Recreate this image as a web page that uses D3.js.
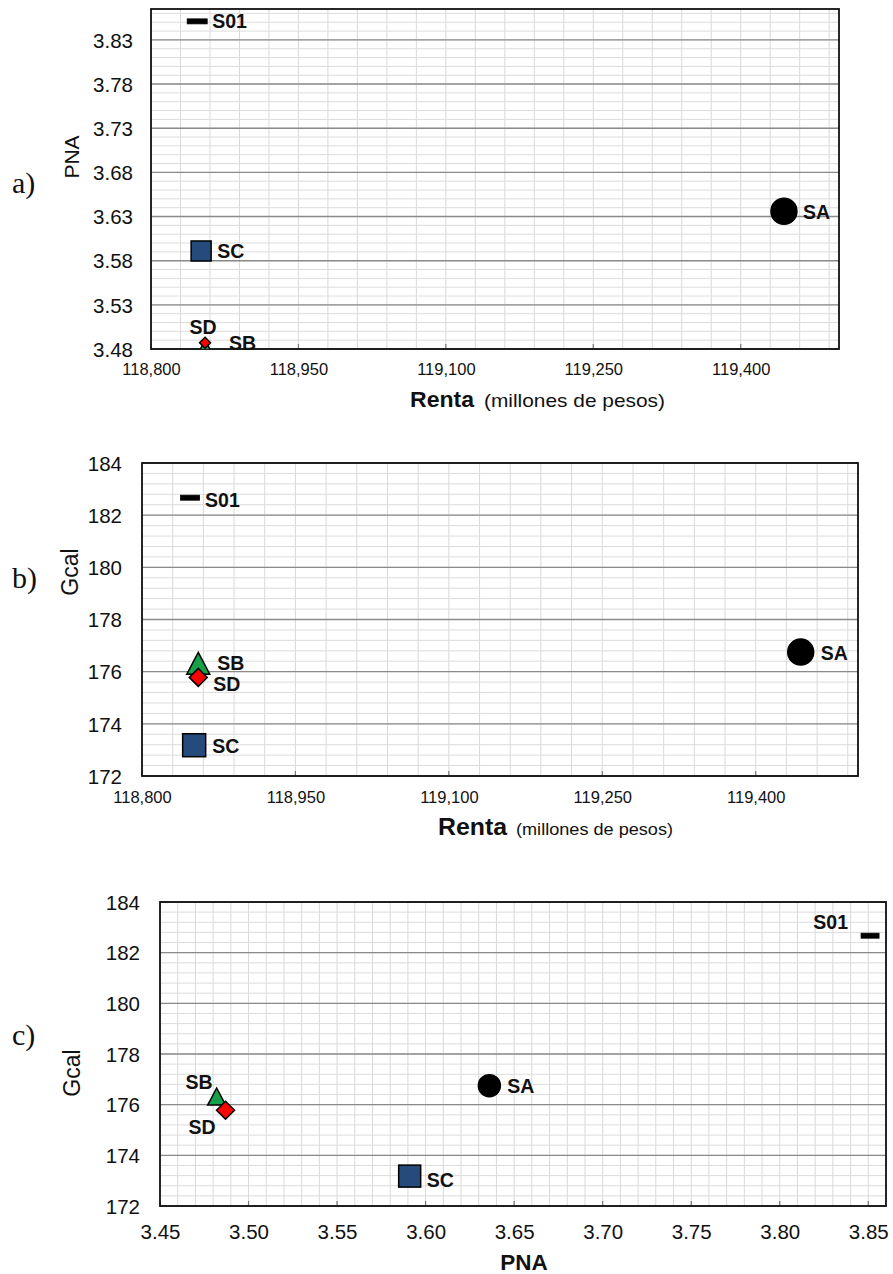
<!DOCTYPE html>
<html>
<head>
<meta charset="utf-8">
<script src="https://cdn.jsdelivr.net/npm/d3@7"></script>
<style>
  html, body { margin: 0; padding: 0; background: #fff; }
  svg { display: block; }
  text { font-family: "Liberation Sans", Arial, sans-serif; }
</style>
</head>
<body>
<svg id="chart" width="893" height="1274"></svg>
<script>
// ---- Data ----
const names = ["SA", "SB", "SC", "SD", "S01"];
const renta = [119444, 118855, 118851, 118855, 118847];   // millones de pesos
const pna   = [3.636, 3.482, 3.591, 3.487, 3.851];
const gcal  = [176.75, 176.32, 173.18, 175.78, 182.67];

const rentaTicks = [118800, 118950, 119100, 119250, 119400];
const pnaTicksA  = [3.48, 3.53, 3.58, 3.63, 3.68, 3.73, 3.78, 3.83];
const gcalTicks  = [172, 174, 176, 178, 180, 182, 184];
const pnaTicksC  = [3.45, 3.50, 3.55, 3.60, 3.65, 3.70, 3.75, 3.80, 3.85];

const shapes = {SA: "circle", SB: "triangle", SC: "square", SD: "diamond", S01: "dash"};
const fills  = {SA: "#000000", SB: "#16a04a", SC: "#244b7c", SD: "#ff0000", S01: "#000000"};
const drawOrder = ["SA", "SC", "SB", "SD", "S01"];

const svg = d3.select("#chart");

function panel(cfg) {
  const g = svg.append("g");
  const x = d3.scaleLinear().domain(cfg.xDomain).range([cfg.left, cfg.right]);
  const y = d3.scaleLinear().domain(cfg.yDomain).range([cfg.bottom, cfg.top]);

  // minor grid
  g.append("g").selectAll("line").data(cfg.xMinor).join("line")
    .attr("x1", d => x(d)).attr("x2", d => x(d))
    .attr("y1", cfg.top).attr("y2", cfg.bottom)
    .attr("stroke", "#d9d9d9").attr("stroke-width", 1);
  g.append("g").selectAll("line").data(cfg.yMinor).join("line")
    .attr("x1", cfg.left).attr("x2", cfg.right)
    .attr("y1", d => y(d)).attr("y2", d => y(d))
    .attr("stroke", "#dcdcdc").attr("stroke-width", 1);
  // major horizontal grid
  g.append("g").selectAll("line").data(cfg.yTicks).join("line")
    .attr("x1", cfg.left).attr("x2", cfg.right)
    .attr("y1", d => y(d)).attr("y2", d => y(d))
    .attr("stroke", "#8a8a8a").attr("stroke-width", 1.4);
  // x major tick marks (inside)
  g.append("g").selectAll("line").data(cfg.xTicks).join("line")
    .attr("x1", d => x(d)).attr("x2", d => x(d))
    .attr("y1", cfg.bottom).attr("y2", cfg.bottom - 5)
    .attr("stroke", "#777").attr("stroke-width", 1.2);

  // frame
  g.append("rect").attr("x", cfg.left).attr("y", cfg.top)
    .attr("width", cfg.right - cfg.left).attr("height", cfg.bottom - cfg.top)
    .attr("fill", "none").attr("stroke", "#111").attr("stroke-width", 1.8);

  // axes (labels)
  const xAxis = d3.axisBottom(x).tickValues(cfg.xTicks).tickFormat(cfg.xFormat).tickSize(0).tickPadding(0);
  const xa = g.append("g").attr("transform", `translate(0,${cfg.bottom})`).call(xAxis);
  xa.select(".domain").remove();
  xa.selectAll("text").attr("y", cfg.xLabelDy).attr("dy", null)
    .style("font-size", cfg.xTickFont + "px").style("font-family", '"Liberation Sans", Arial, sans-serif')
    .attr("fill", "#111");

  const yAxis = d3.axisLeft(y).tickValues(cfg.yTicks).tickFormat(cfg.yFormat).tickSize(0).tickPadding(cfg.yPad);
  const ya = g.append("g").attr("transform", `translate(${cfg.left},0)`).call(yAxis);
  ya.select(".domain").remove();
  ya.selectAll("text").attr("dy", "0.35em")
    .style("font-size", cfg.yTickFont + "px").style("font-family", '"Liberation Sans", Arial, sans-serif')
    .attr("fill", "#111");

  // clip for markers
  const clipId = "clip" + cfg.id;
  svg.append("clipPath").attr("id", clipId).append("rect")
    .attr("x", cfg.left).attr("y", cfg.top)
    .attr("width", cfg.right - cfg.left).attr("height", cfg.bottom - cfg.top);

  const pts = drawOrder.map(n => {
    const i = names.indexOf(n);
    return {name: n, xv: cfg.xData[i], yv: cfg.yData[i]};
  });
  const mk = g.append("g").attr("clip-path", `url(#${clipId})`);
  pts.forEach(p => {
    const cx = x(p.xv), cy = y(p.yv);
    const s = cfg.sizes[p.name];
    const shape = shapes[p.name];
    let el;
    if (shape === "circle") {
      el = mk.append("circle").attr("cx", cx).attr("cy", cy).attr("r", s);
    } else if (shape === "square") {
      el = mk.append("rect").attr("x", cx - s / 2).attr("y", cy - s / 2).attr("width", s).attr("height", s);
    } else if (shape === "triangle") {
      const h = s * 0.95;
      el = mk.append("path").attr("d", `M${cx},${cy - h / 2}L${cx + s / 2},${cy + h / 2}L${cx - s / 2},${cy + h / 2}Z`);
    } else if (shape === "diamond") {
      const r = s / 2;
      el = mk.append("path").attr("d", `M${cx},${cy - r}L${cx + r},${cy}L${cx},${cy + r}L${cx - r},${cy}Z`);
    } else {
      el = mk.append("rect").attr("x", cx - s / 2).attr("y", cy - 2.5).attr("width", s).attr("height", 5);
    }
    el.attr("fill", fills[p.name]).attr("stroke", "#000").attr("stroke-width", shape === "dash" ? 0.8 : 1.5);
  });

  // point labels
  pts.forEach(p => {
    const o = cfg.labels[p.name];
    g.append("text").attr("x", x(p.xv) + o[0]).attr("y", y(p.yv) + o[1])
      .attr("text-anchor", o[2] || "start")
      .style("font-weight", "bold").style("font-size", "19.5px").attr("fill", "#111")
      .text(p.name);
  });

  // axis titles
  cfg.titles(g);

  // panel letter
  g.append("text").attr("x", 12).attr("y", cfg.letterY)
    .style("font-family", '"Liberation Serif", "Times New Roman", serif')
    .style("font-size", "30px").attr("fill", "#111").text(cfg.letter);
}

const fmtComma = d3.format(",");
const fmt2 = d3.format(".2f");
const fmtInt = d3.format("d");

const rentaMinor = d3.range(0, 24).map(i => 118800 + i * 30);
const gcalMinor = d3.range(0, 31).map(i => 172 + i * 0.4);

// Panel a
panel({
  id: "a", letter: "a)", letterY: 193,
  left: 151, right: 839, top: 9, bottom: 349,
  xDomain: [118800, 119500], yDomain: [3.48, 3.865],
  xData: renta, yData: pna,
  xTicks: rentaTicks, yTicks: pnaTicksA,
  xMinor: rentaMinor, yMinor: d3.range(0, 39).map(i => 3.48 + i * 0.01),
  xFormat: fmtComma, yFormat: fmt2,
  xTickFont: 16.5, yTickFont: 20.5, xLabelDy: 26, yPad: 18,
  sizes: {SA: 13, SC: 20, SB: 15, SD: 11, S01: 20},
  labels: {SA: [19, 8], S01: [15, 7], SC: [16, 7], SD: [-2, -9, "middle"], SB: [24, 3]},
  titles: g => {
    g.append("text").attr("transform", "translate(79,157) rotate(-90)")
      .attr("text-anchor", "middle").style("font-size", "21px").attr("fill", "#111").text("PNA");
    g.append("text").attr("x", 410).attr("y", 407).attr("fill", "#111")
      .style("font-weight", "bold").style("font-size", "22px")
      .attr("textLength", 64).attr("lengthAdjust", "spacingAndGlyphs").text("Renta");
    g.append("text").attr("x", 484).attr("y", 407).attr("fill", "#111")
      .style("font-size", "18.5px")
      .attr("textLength", 181).attr("lengthAdjust", "spacingAndGlyphs").text("(millones de pesos)");
  }
});

// Panel b
panel({
  id: "b", letter: "b)", letterY: 588,
  left: 142, right: 858, top: 463, bottom: 776,
  xDomain: [118800, 119500], yDomain: [172, 184],
  xData: renta, yData: gcal,
  xTicks: rentaTicks, yTicks: gcalTicks,
  xMinor: rentaMinor, yMinor: gcalMinor,
  xFormat: fmtComma, yFormat: fmtInt,
  xTickFont: 16.5, yTickFont: 20.5, xLabelDy: 27, yPad: 20,
  sizes: {SA: 13, SC: 23, SB: 23, SD: 18, S01: 19},
  labels: {SA: [20, 8], S01: [15, 9], SB: [19, 7], SD: [15, 14], SC: [18, 8]},
  titles: g => {
    g.append("text").attr("transform", "translate(78,572) rotate(-90)")
      .attr("text-anchor", "middle").style("font-size", "23px").attr("fill", "#111").text("Gcal");
    g.append("text").attr("x", 438).attr("y", 835).attr("fill", "#111")
      .style("font-weight", "bold").style("font-size", "24px")
      .attr("textLength", 69).attr("lengthAdjust", "spacingAndGlyphs").text("Renta");
    g.append("text").attr("x", 516).attr("y", 835).attr("fill", "#111")
      .style("font-size", "16.5px")
      .attr("textLength", 157).attr("lengthAdjust", "spacingAndGlyphs").text("(millones de pesos)");
  }
});

// Panel c
panel({
  id: "c", letter: "c)", letterY: 1045,
  left: 160, right: 886, top: 902, bottom: 1206,
  xDomain: [3.45, 3.86], yDomain: [172, 184],
  xData: pna, yData: gcal,
  xTicks: pnaTicksC, yTicks: gcalTicks,
  xMinor: d3.range(0, 42).map(i => 3.45 + i * 0.01), yMinor: gcalMinor,
  xFormat: fmt2, yFormat: fmtInt,
  xTickFont: 20.5, yTickFont: 20.5, xLabelDy: 33, yPad: 20,
  sizes: {SA: 11, SC: 22, SB: 18, SD: 18, S01: 18},
  labels: {SA: [18, 7], S01: [-22, -7, "end"], SB: [-4, -8, "end"], SD: [-10, 24, "end"], SC: [17, 11]},
  titles: g => {
    g.append("text").attr("transform", "translate(80,1073) rotate(-90)")
      .attr("text-anchor", "middle").style("font-size", "23px").attr("fill", "#111").text("Gcal");
    g.append("text").attr("x", 524).attr("y", 1270).attr("text-anchor", "middle")
      .style("font-weight", "bold").style("font-size", "22.5px").attr("fill", "#111").text("PNA");
  }
});
</script>
</body>
</html>
